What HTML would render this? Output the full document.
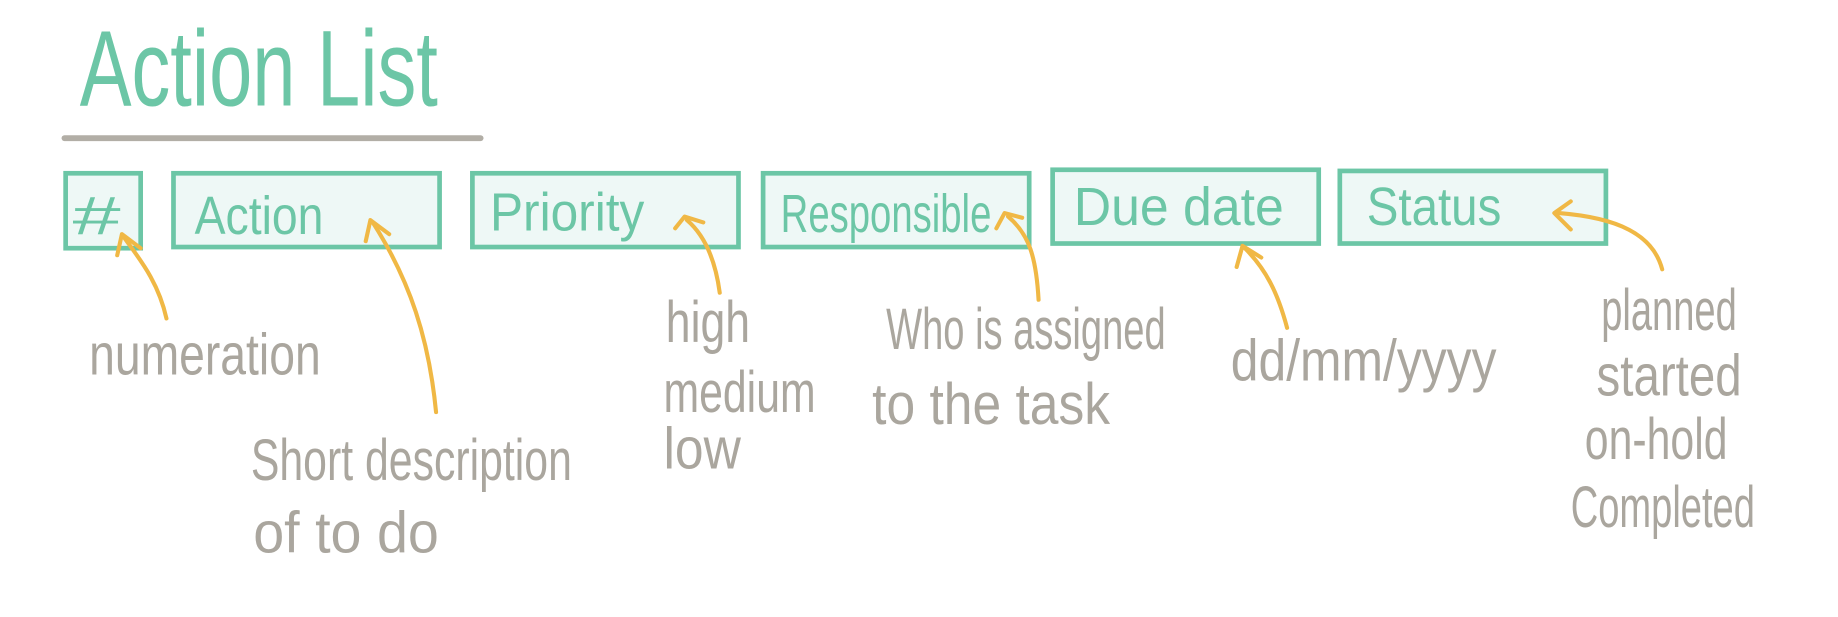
<!DOCTYPE html>
<html><head><style>html,body{margin:0;padding:0;background:#fff;}svg{display:block}</style></head>
<body>
<svg width="1838" height="617" viewBox="0 0 1568 527" preserveAspectRatio="none" xmlns="http://www.w3.org/2000/svg" font-family="Liberation Sans, sans-serif">
<text transform="translate(68,90) scale(0.72,1)" font-size="92" fill="#6cc6a6">Action List</text>
<line x1="55" y1="118" x2="410" y2="118" stroke="#b2aea6" stroke-width="5" stroke-linecap="round"/>
<g fill="#eef8f6" stroke="#6cc6a6" stroke-width="4">
<rect x="56" y="148" width="64" height="64"/>
<rect x="148" y="148" width="227" height="63"/>
<rect x="403" y="148" width="227" height="63"/>
<rect x="651" y="148" width="227" height="63"/>
<rect x="898" y="145" width="227" height="63"/>
<rect x="1143" y="146" width="227" height="62"/>
</g>
<g fill="#6cc6a6" font-size="46">
<text transform="translate(62,200) scale(1.6,1)">#</text>
<text transform="translate(166,200) scale(0.86,1)">Action</text>
<text transform="translate(418,197) scale(0.92,1)">Priority</text>
<text transform="translate(666,198) scale(0.71,1)">Responsible</text>
<text transform="translate(916,192) scale(0.96,1)">Due date</text>
<text transform="translate(1166,192) scale(0.88,1)">Status</text>
</g>
<g fill="none" stroke="#f0b845" stroke-width="3.5" stroke-linecap="round" stroke-linejoin="round">
<path d="M142 272 C135 240 118 220 106 203"/><path d="M100 218 L104 200 L120 212"/>
<path d="M372 352 C366 290 350 240 318 190"/><path d="M312 206 L316 188 L332 200"/>
<path d="M614 250 C610 220 600 200 586 188"/><path d="M576 195 L584 185 L600 190"/>
<path d="M886 256 C884 220 878 200 860 185"/><path d="M850 195 L857 182 L872 186"/>
<path d="M1098 280 C1090 250 1080 230 1062 212"/><path d="M1055 228 L1060 210 L1076 220"/>
<path d="M1418 230 C1410 200 1380 186 1330 182"/><path d="M1340 196 L1326 182 L1340 172"/>
</g>
<g fill="#aaa69e" font-size="50">
<text transform="translate(76,320) scale(0.79,1)">numeration</text>
<text transform="translate(214,410) scale(0.73,1)">Short description</text>
<text transform="translate(216,472) scale(0.95,1)">of to do</text>
<text transform="translate(568,292) scale(0.76,1)">high</text>
<text transform="translate(566,352) scale(0.73,1)">medium</text>
<text transform="translate(566,400) scale(0.88,1)">low</text>
<text transform="translate(756,298) scale(0.65,1)">Who is assigned</text>
<text transform="translate(744,362) scale(0.88,1)">to the task</text>
<text transform="translate(1050,325) scale(0.85,1)">dd/mm/yyyy</text>
<text transform="translate(1366,282) scale(0.65,1)">planned</text>
<text transform="translate(1362,338) scale(0.81,1)">started</text>
<text transform="translate(1352,392) scale(0.73,1)">on-hold</text>
<text transform="translate(1340,450) scale(0.65,1)">Completed</text>
</g>
</svg>
</body></html>
